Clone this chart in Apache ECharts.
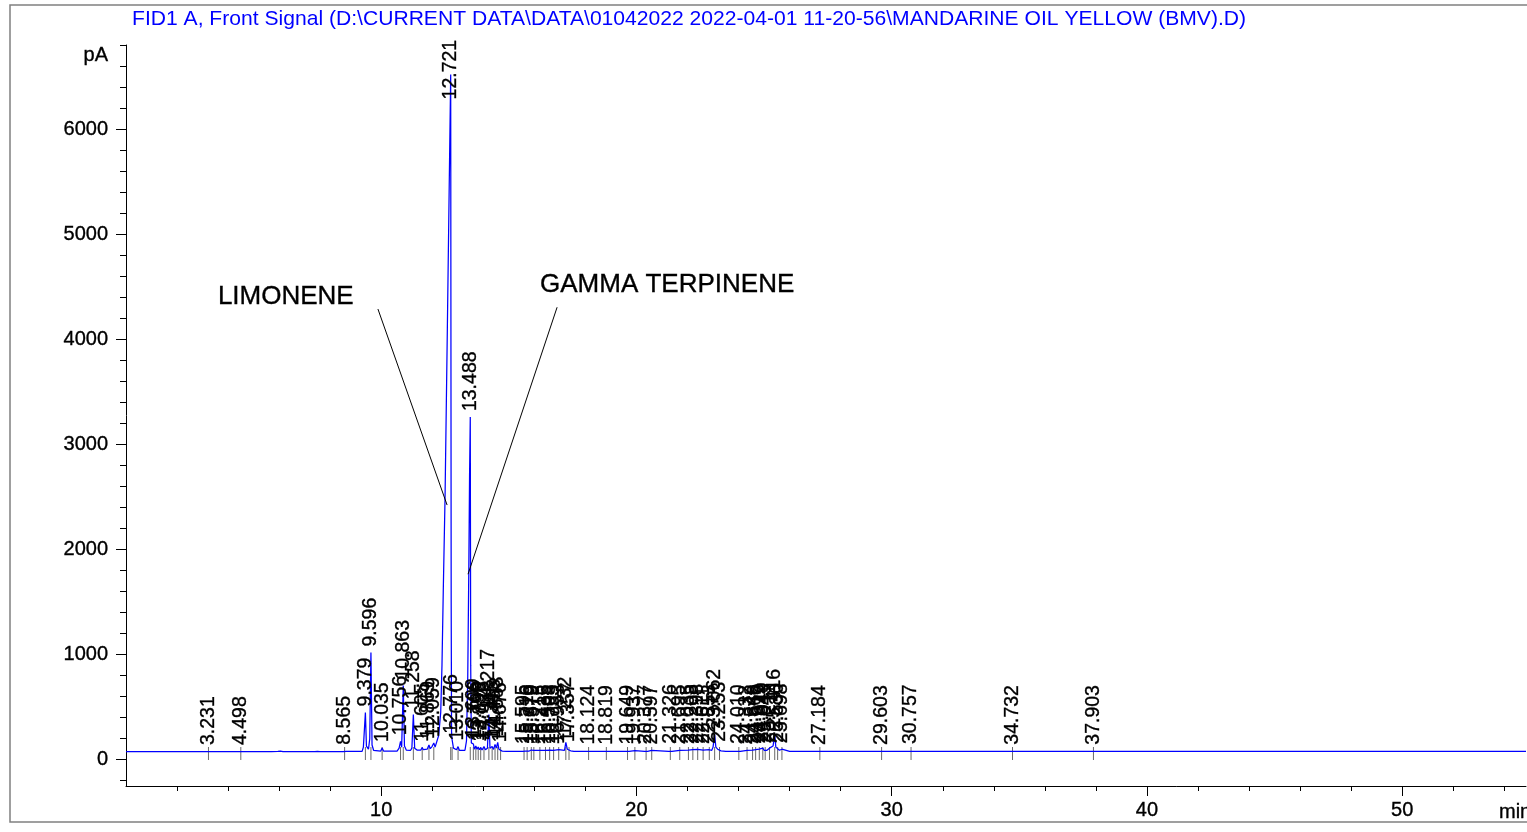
<!DOCTYPE html>
<html>
<head>
<meta charset="utf-8">
<title>FID1 A, Front Signal</title>
<script src="https://cdn.jsdelivr.net/npm/echarts@6.0.0/dist/echarts.min.js"></script>
<style>
html, body { margin: 0; padding: 0; background: #fff; }
#chart { width: 1527px; height: 832px; }
</style>
</head>
<body>
<div id="chart"></div>
<script>
// FID trace: [minutes, pA]
var trace = [
  [0, 76], [2.0, 77], [3.18, 77], [3.231, 83], [3.29, 77],
  [4.44, 77], [4.498, 83], [4.56, 78],
  [5.55, 78], [5.62, 82], [5.70, 78], [5.95, 79], [6.05, 82], [6.15, 78], [7.4, 78], [7.5, 80], [7.6, 78],
  [8.50, 78], [8.565, 86], [8.63, 79],
  [9.25, 80], [9.30, 120], [9.379, 450], [9.42, 130], [9.50, 100], [9.55, 200], [9.596, 1020], [9.64, 140], [9.70, 90],
  [9.98, 82], [10.035, 112], [10.09, 82],
  [10.62, 82], [10.70, 110], [10.756, 175], [10.80, 120], [10.863, 705], [10.91, 130], [10.98, 92],
  [11.15, 90], [11.20, 110], [11.258, 430], [11.31, 110], [11.40, 92],
  [11.55, 92], [11.605, 115], [11.65, 95], [11.80, 100], [11.869, 140], [11.92, 105], [11.99, 125], [12.059, 160], [12.11, 120],
  [12.17, 110], [12.25, 230], [12.33, 450], [12.38, 900], [12.43, 1600], [12.50, 2500], [12.59, 4100], [12.66, 5400], [12.721, 6520],
  [12.74, 1500], [12.755, 260], [12.776, 190], [12.83, 110], [12.95, 95], [13.010, 125], [13.06, 90],
  [13.28, 90], [13.34, 180], [13.39, 800], [13.43, 1800], [13.46, 2700], [13.488, 3260], [13.505, 900], [13.53, 160],
  [13.609, 150], [13.65, 100], [13.706, 130], [13.75, 100], [13.799, 120], [13.85, 95], [13.896, 115], [13.95, 92],
  [14.025, 125], [14.08, 95], [14.16, 110], [14.217, 430], [14.26, 110], [14.30, 100], [14.345, 125], [14.40, 98],
  [14.458, 145], [14.51, 110], [14.563, 165], [14.61, 100], [14.676, 110], [14.74, 82], [14.9, 79],
  [15.3, 79], [15.55, 80], [15.595, 92], [15.65, 82], [15.716, 90], [15.78, 81], [15.879, 92], [15.93, 82], [15.979, 88], [16.05, 80],
  [16.215, 88], [16.28, 80], [16.435, 90], [16.50, 80], [16.598, 92], [16.66, 81], [16.753, 88], [16.82, 80], [16.953, 95], [17.02, 82],
  [17.18, 90], [17.232, 165], [17.29, 100], [17.357, 112], [17.42, 85], [17.55, 80], [18.05, 79], [18.124, 88], [18.19, 79],
  [18.75, 79], [18.819, 85], [18.88, 79],
  [19.58, 79], [19.649, 88], [19.71, 80], [19.937, 86], [20.0, 79], [20.32, 80], [20.377, 92], [20.44, 80], [20.597, 88], [20.66, 79],
  [21.26, 80], [21.326, 95], [21.39, 80], [21.695, 90], [21.75, 80], [22.035, 92], [22.1, 82], [22.208, 95], [22.27, 82],
  [22.398, 98], [22.46, 82], [22.611, 92], [22.67, 81], [22.853, 95], [22.95, 90], [23.00, 120], [23.062, 240], [23.11, 120],
  [23.18, 100], [23.253, 115], [23.31, 84], [23.5, 80],
  [23.95, 80], [24.010, 92], [24.07, 80], [24.332, 88], [24.4, 80], [24.548, 92], [24.6, 85], [24.668, 95], [24.73, 84],
  [24.812, 100], [24.87, 88], [24.949, 110], [25.0, 90], [25.043, 100], [25.1, 88], [25.211, 110], [25.28, 95], [25.35, 130],
  [25.416, 240], [25.46, 120], [25.530, 105], [25.60, 90], [25.698, 100], [25.76, 82], [26.0, 79],
  [27.12, 79], [27.184, 84], [27.25, 79], [29.55, 79], [29.603, 84], [29.66, 79], [30.70, 80], [30.757, 92], [30.82, 80],
  [31.5, 79], [32.0, 80], [32.5, 79], [33.0, 80], [33.5, 79], [34.0, 80], [34.68, 79], [34.732, 86], [34.79, 79],
  [35.5, 79], [36.0, 79], [37.85, 79], [37.903, 86], [37.96, 79], [54.85, 79]
];

// integrated peaks: retention time (min) and apex (pA)
var peakTimes = [3.231, 4.498, 8.565, 9.379, 9.596, 10.035, 10.756, 10.863, 11.258, 11.605, 11.869, 12.059,
  12.721, 12.776, 13.010, 13.488, 13.609, 13.706, 13.799, 13.896, 14.025, 14.217, 14.345, 14.458, 14.563, 14.676,
  15.595, 15.716, 15.879, 15.979, 16.215, 16.435, 16.598, 16.753, 16.953, 17.232, 17.357, 18.124, 18.819,
  19.649, 19.937, 20.377, 20.597, 21.326, 21.695, 22.035, 22.208, 22.398, 22.611, 22.853, 23.062, 23.253,
  24.010, 24.332, 24.548, 24.668, 24.812, 24.949, 25.043, 25.211, 25.416, 25.530, 25.698,
  27.184, 29.603, 30.757, 34.732, 37.903];
var peakApex = [83, 83, 86, 450, 1020, 112, 175, 705, 430, 115, 140, 160,
  6520, 190, 125, 3260, 150, 130, 120, 115, 125, 430, 125, 145, 165, 110,
  92, 90, 92, 88, 88, 90, 92, 88, 95, 165, 112, 88, 85,
  88, 86, 92, 88, 95, 90, 92, 95, 98, 92, 95, 240, 115,
  92, 88, 92, 95, 100, 110, 100, 110, 240, 105, 100,
  84, 84, 92, 86, 86];
var baselinePA = 78;

var xMajorTicks = [10, 20, 30, 40, 50];
var xMinorTicks = [2, 4, 6, 8, 10, 12, 14, 16, 18, 20, 22, 24, 26, 28, 30, 32, 34, 36, 38, 40, 42, 44, 46, 48, 50, 52, 54];
var yMajorTicks = [0, 1000, 2000, 3000, 4000, 5000, 6000];
var yMinorTicks = [-200, 0, 200, 400, 600, 800, 1000, 1200, 1400, 1600, 1800, 2000, 2200, 2400, 2600, 2800, 3000,
  3200, 3400, 3600, 3800, 4000, 4200, 4400, 4600, 4800, 5000, 5200, 5400, 5600, 5800, 6000, 6200, 6400, 6600, 6800];

// compound annotations (pointer lines in minutes / pA)
var limoneneLine = [[9.87, 4288], [12.58, 2423]];
var gammaLine = [[16.89, 4305], [13.40, 1765]];
var annotations = [
  { name: 'LIMONENE', value: [3.60, 4402] },
  { name: 'GAMMA TERPINENE', value: [16.22, 4517] }
];

var titleText = 'FID1 A, Front Signal (D:\\CURRENT DATA\\DATA\\01042022 2022-04-01 11-20-56\\MANDARINE OIL YELLOW (BMV).D)';
var font = 'Liberation Sans, Arial, sans-serif';

var chart = echarts.init(document.getElementById('chart'));

var labelPoints = peakTimes.map(function (t, i) {
  var item = { value: [t, peakApex[i]] };
  if (t === 12.721) item.label = { distance: -25 };   // pushed down to fit under the top
  return item;
});

// slightly heavier black text, like the printed report
var ink = { color: '#000', opacity: 1, textBorderColor: '#000', textBorderWidth: 0.35 };

var option = {
  animation: false,
  backgroundColor: '#fff',
  textStyle: { fontFamily: font },
  grid: { left: 126, right: 1, top: 45, bottom: 46, outerBoundsMode: 'none' },
  xAxis: [
    {
      type: 'value', min: 0, max: 54.85, position: 'bottom',
      axisLine: { show: true, onZero: false, lineStyle: { color: '#000', width: 1 } },
      axisTick: { show: true, customValues: xMinorTicks, length: 5, lineStyle: { color: '#000' } },
      axisLabel: { show: false },
      splitLine: { show: false }
    },
    {
      type: 'value', min: 0, max: 54.85, position: 'bottom',
      axisLine: { show: false, onZero: false },
      axisTick: { show: true, customValues: xMajorTicks, length: 10, lineStyle: { color: '#000' } },
      axisLabel: Object.assign({ show: true, customValues: xMajorTicks, margin: 14, fontSize: 20, fontFamily: font }, ink),
      splitLine: { show: false }
    }
  ],
  yAxis: [
    {
      type: 'value', min: -250, max: 6800, position: 'left',
      axisLine: { show: true, onZero: false, lineStyle: { color: '#000', width: 1 } },
      axisTick: { show: true, customValues: yMinorTicks, length: 6, lineStyle: { color: '#000' } },
      axisLabel: { show: false },
      splitLine: { show: false }
    },
    {
      type: 'value', min: -250, max: 6800, position: 'left',
      axisLine: { show: false, onZero: false },
      axisTick: { show: true, customValues: yMajorTicks, length: 10, lineStyle: { color: '#000' } },
      axisLabel: Object.assign({
        show: true, customValues: yMajorTicks, margin: 18, fontSize: 20, fontFamily: font,
        formatter: function (v) { return String(v); }
      }, ink),
      splitLine: { show: false }
    }
  ],
  graphic: [
    { type: 'rect', silent: true, z: -10, shape: { x: 10, y: 5, width: 1530, height: 817 },
      style: { fill: 'none', stroke: '#808080', lineWidth: 1.5 } },
    { type: 'text', x: 132, y: 19, style: { text: titleText, fill: '#0000ff', font: '21.1px ' + font, verticalAlign: 'middle' } },
    { type: 'text', x: 108, y: 55, style: { text: 'pA', fill: '#000', stroke: '#000', lineWidth: 0.35, font: '20px ' + font, align: 'right', verticalAlign: 'middle' } },
    { type: 'text', x: 1499, y: 812, style: { text: 'min', fill: '#000', stroke: '#000', lineWidth: 0.35, font: '20px ' + font, verticalAlign: 'middle' } }
  ],
  series: [
    {
      name: 'FID1 A', type: 'line', data: trace, symbol: 'none', showSymbol: false,
      lineStyle: { color: '#0000ff', width: 1.25 }, silent: true, z: 3
    },
    {
      name: 'peak marks', type: 'scatter', silent: true, z: 2,
      data: peakTimes.map(function (t) { return [t, baselinePA]; }),
      symbol: 'rect', symbolSize: [1, 13], symbolOffset: [0, 2], itemStyle: { color: '#444' }
    },
    {
      name: 'retention times', type: 'scatter', silent: true, z: 4,
      data: labelPoints, symbolSize: 0, itemStyle: { color: '#000' },
      label: Object.assign({
        show: true, position: 'top', distance: 6, rotate: 90, align: 'left', verticalAlign: 'middle',
        fontSize: 19.5, fontFamily: font,
        formatter: function (p) { return peakTimes[p.dataIndex].toFixed(3); }
      }, ink)
    },
    {
      name: 'limonene pointer', type: 'line', data: limoneneLine, symbol: 'none', silent: true,
      lineStyle: { color: '#000', width: 1 }, z: 5
    },
    {
      name: 'gamma pointer', type: 'line', data: gammaLine, symbol: 'none', silent: true,
      lineStyle: { color: '#000', width: 1 }, z: 5
    },
    {
      name: 'annotations', type: 'scatter', data: annotations, symbolSize: 0, silent: true, z: 5,
      itemStyle: { color: '#000' },
      label: Object.assign({ show: true, formatter: '{b}', position: 'right', distance: 0, fontSize: 26, fontFamily: font }, ink)
    }
  ]
};

chart.setOption(option);
</script>
</body>
</html>
